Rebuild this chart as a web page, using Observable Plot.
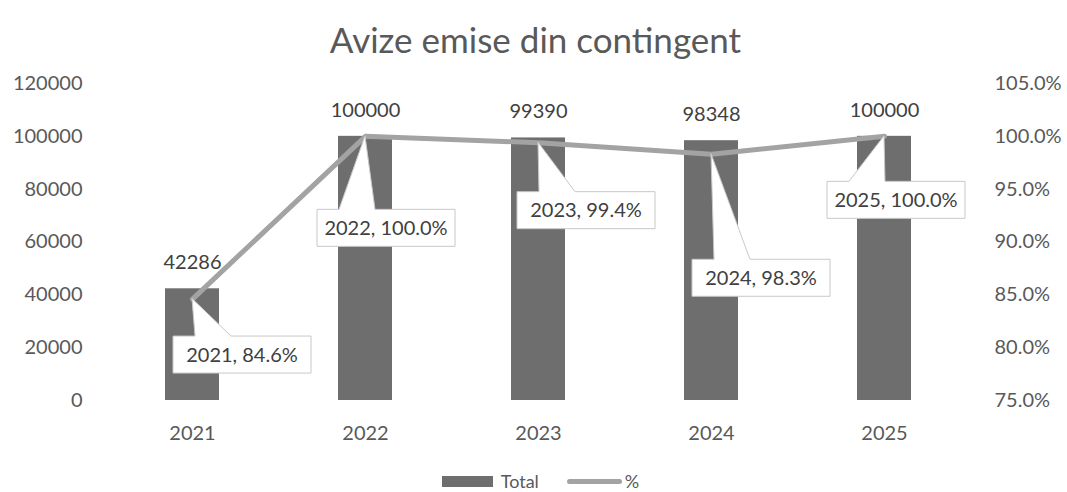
<!DOCTYPE html>
<html>
<head>
<meta charset="utf-8">
<script src="https://cdn.jsdelivr.net/npm/d3@7"></script>
<script src="https://cdn.jsdelivr.net/npm/@observablehq/plot@0.6"></script>
<style>
  html, body { margin: 0; padding: 0; background: #fff; }
  body { width: 1067px; height: 492px; overflow: hidden; font-family: Lato, "Open Sans", sans-serif; position: relative; }
  #title { height: 70px; line-height: 70px; padding-top: 4px; box-sizing: border-box; text-align: center; font-size: 35px; color: #595959; padding-left: 4px; }
  #chart svg { display: block; }
  #legend { position: absolute; left: 0; top: 470px; width: 1067px; height: 22px; line-height: 22px; display: flex; justify-content: center; align-items: center; font-size: 18px; color: #595959; padding-left: 14px; box-sizing: border-box; }
  .sw-bar { display: inline-block; width: 51px; height: 11px; background: #6e6e6e; margin-right: 8px; }
  .sw-line { display: inline-block; width: 55px; height: 5px; border-radius: 3px; background: #a3a3a3; margin-left: 28px; margin-right: 3px; }
</style>
</head>
<body>
<div id="title">Avize emise din contingent</div>
<div id="chart"></div>
<div id="legend"><span class="sw-bar"></span><span>Total</span><span class="sw-line"></span><span>%</span></div>
<script>
// ---- data ----
const years = ["2021", "2022", "2023", "2024", "2025"];
const totals = [42286, 100000, 99390, 98348, 100000];
const percents = [84.6, 100.0, 99.4, 98.3, 100.0];
const leftTicks = [0, 20000, 40000, 60000, 80000, 100000, 120000];
const rightTicks = [75, 80, 85, 90, 95, 100, 105];

// ---- layout / style (not data) ----
const calloutOffsets = [[50, 56], [21, 92], [48, 68], [50, 124], [12, 64]];
const BOX_W = 138, BOX_H = 37;

const yMax = 120000, pMin = 75, pMax = 105;
const pToY = p => (p - pMin) / (pMax - pMin) * yMax;
const yToP = v => v / yMax * (pMax - pMin) + pMin;

const rows = years.map((year, i) => ({year, total: totals[i], pct: percents[i], py: pToY(percents[i])}));

const textColor = "#595959";
const plot = Plot.plot({
  width: 1067,
  height: 385,
  marginTop: 13,
  marginBottom: 55,
  marginLeft: 104,
  marginRight: 95,
  style: {fontFamily: "Lato, 'Open Sans', sans-serif", fontSize: "20px", color: textColor, background: "white"},
  x: {domain: years, paddingInner: 0.69, paddingOuter: 0.345},
  y: {domain: [0, yMax]},
  marks: [
    Plot.barY(rows, {x: "year", y: "total", fill: "#6e6e6e"}),
    Plot.line(rows, {x: "year", y: "py", stroke: "#a3a3a3", strokeWidth: 5, strokeLinejoin: "round"}),
    Plot.text(rows, {x: "year", y: "total", text: d => String(d.total), dy: -26, fontSize: 20, fill: "#404040"}),
    Plot.axisX({tickSize: 0, tickPadding: 25, fontSize: 20, label: null}),
    Plot.axisY({anchor: "left", ticks: leftTicks, tickSize: 0, tickPadding: 22, tickFormat: d => String(d), fontSize: 20, label: null}),
    Plot.axisY({anchor: "right", ticks: rightTicks.map(pToY), tickSize: 0, tickPadding: 22, tickFormat: v => yToP(v).toFixed(1) + "%", fontSize: 20, label: null, textAnchor: "start"})
  ]
});
document.getElementById("chart").appendChild(plot);

// ---- callouts positioned through the plot's own scales ----
const xs = plot.scale("x"), ys = plot.scale("y");
const svg = d3.select(plot);
const g = svg.append("g").attr("class", "callouts");
rows.forEach((d, i) => {
  const px = xs.apply(d.year) + xs.bandwidth / 2;
  const py = ys.apply(d.py);
  const [ox, oy] = calloutOffsets[i];
  const cx = px + ox, cy = py + oy;
  const l = cx - BOX_W / 2, r = cx + BOX_W / 2, t = cy - BOX_H / 2, b = cy + BOX_H / 2;
  const b1 = l + 22, b2 = l + 58;
  const path = `M${l},${t}L${b1},${t}L${px},${py}L${b2},${t}L${r},${t}L${r},${b}L${l},${b}Z`;
  g.append("path").attr("d", path).attr("fill", "white").attr("stroke", "#c8c8c8").attr("stroke-width", 1);
  g.append("text").attr("x", cx).attr("y", cy).attr("dy", "0.35em").attr("text-anchor", "middle")
    .attr("font-size", 20).attr("fill", "#404040")
    .text(`${d.year}, ${d.pct.toFixed(1)}%`);
});
</script>
</body>
</html>
